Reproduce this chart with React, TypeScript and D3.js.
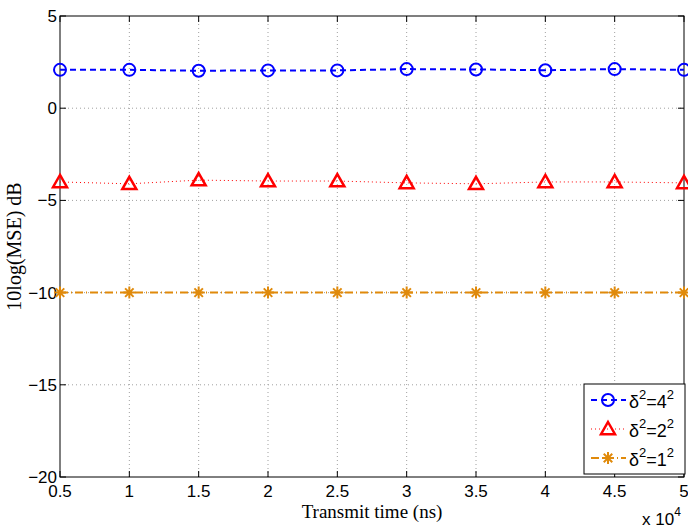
import { useRef, useEffect } from "react";
import * as d3 from "d3";

// transmit time, x 10^4 ns
const times = [0.5, 1, 1.5, 2, 2.5, 3, 3.5, 4, 4.5, 5];
const mse16 = [2.08, 2.08, 2.03, 2.05, 2.05, 2.12, 2.1, 2.06, 2.12, 2.08];
const mse4 = [-4.0, -4.1, -3.9, -3.95, -3.95, -4.05, -4.1, -4.0, -4.0, -4.05];
const mse1 = [-10, -10, -10, -10, -10, -10, -10, -10, -10, -10];
const xTicks = [0.5, 1, 1.5, 2, 2.5, 3, 3.5, 4, 4.5, 5];
const yTicks = [5, 0, -5, -10, -15, -20];
const legendBase = ["4", "2", "1"];

export default function App() {
  const ref = useRef<SVGSVGElement>(null);

  useEffect(() => {
    const svg = d3.select(ref.current);
    svg.selectAll("*").remove();
    const width = 688, height = 528;
    const m = { left: 60, right: 4, top: 16, bottom: 51 };

    const x = d3.scaleLinear().domain([0.5, 5]).range([m.left, width - m.right]);
    const y = d3.scaleLinear().domain([-20, 5]).range([height - m.bottom, m.top]);

    svg.append("rect").attr("width", width).attr("height", height).attr("fill", "white");

    // grid
    const grid = svg.append("g").attr("stroke", "#a0a0a0").attr("stroke-width", 1).attr("stroke-dasharray", "1,3");
    xTicks.slice(1, -1).forEach(t => {
      grid.append("line").attr("x1", x(t)).attr("x2", x(t)).attr("y1", y(-20)).attr("y2", y(5));
    });
    yTicks.slice(1, -1).forEach(t => {
      grid.append("line").attr("x1", x(0.5)).attr("x2", x(5)).attr("y1", y(t)).attr("y2", y(t));
    });

    // frame + ticks
    const axisG = svg.append("g").attr("stroke", "black").attr("stroke-width", 1);
    axisG.append("rect")
      .attr("x", x(0.5)).attr("y", y(5))
      .attr("width", x(5) - x(0.5)).attr("height", y(-20) - y(5))
      .attr("fill", "none");
    xTicks.forEach(t => {
      axisG.append("line").attr("x1", x(t)).attr("x2", x(t)).attr("y1", y(-20)).attr("y2", y(-20) - 6);
      axisG.append("line").attr("x1", x(t)).attr("x2", x(t)).attr("y1", y(5)).attr("y2", y(5) + 6);
    });
    yTicks.forEach(t => {
      axisG.append("line").attr("x1", x(0.5)).attr("x2", x(0.5) + 6).attr("y1", y(t)).attr("y2", y(t));
      axisG.append("line").attr("x1", x(5)).attr("x2", x(5) - 6).attr("y1", y(t)).attr("y2", y(t));
    });

    const sans = "'Liberation Sans', Arial, sans-serif";
    const serif = "'Liberation Serif', 'Times New Roman', serif";

    svg.append("g").selectAll("text").data(xTicks).join("text")
      .attr("x", d => x(d)).attr("y", y(-20) + 20)
      .attr("text-anchor", "middle").attr("font-family", sans).attr("font-size", 17)
      .text(d => String(d));
    svg.append("g").selectAll("text").data(yTicks).join("text")
      .attr("x", x(0.5) - 3).attr("y", d => y(d) + 6)
      .attr("text-anchor", "end").attr("font-family", sans).attr("font-size", 17)
      .text(d => (d < 0 ? "\u2212" + Math.abs(d) : String(d)));

    const mult = svg.append("text").attr("x", 642).attr("y", 525)
      .attr("font-family", sans).attr("font-size", 17);
    mult.append("tspan").text("x 10");
    mult.append("tspan").attr("dy", -9).attr("font-size", 12).text("4");

    svg.append("text").attr("x", (x(0.5) + x(5)) / 2).attr("y", 518)
      .attr("text-anchor", "middle").attr("font-family", serif).attr("font-size", 19)
      .text("Transmit time (ns)");
    svg.append("text").attr("transform", `translate(21,${(y(5) + y(-20)) / 2}) rotate(-90)`)
      .attr("text-anchor", "middle").attr("font-family", serif).attr("font-size", 20)
      .text("10log(MSE) dB");

    const series = [
      { values: mse16, color: "#0000ff", dash: "6,4", width: 2, marker: "circle" },
      { values: mse4, color: "#ff0000", dash: "1,3", width: 1, marker: "triangle" },
      { values: mse1, color: "#e08a0b", dash: "8,3,1,3", width: 2, marker: "star" },
    ];

    const line = d3.line<[number, number]>().x(d => x(d[0])).y(d => y(d[1]));

    const drawMarker = (g: any, kind: string, cx: number, cy: number, color: string) => {
      if (kind === "circle") {
        g.append("circle").attr("cx", cx).attr("cy", cy).attr("r", 6)
          .attr("fill", "none").attr("stroke", color).attr("stroke-width", 2);
      } else if (kind === "triangle") {
        const s = 7;
        g.append("path")
          .attr("d", `M${cx},${cy - s} L${cx + s},${cy + s * 0.75} L${cx - s},${cy + s * 0.75} Z`)
          .attr("fill", "none").attr("stroke", color).attr("stroke-width", 2.5);
      } else {
        const r = 6;
        const p = [0, 45, 90, 135].map(a => {
          const rad = (a * Math.PI) / 180;
          return `M${cx - r * Math.cos(rad)},${cy - r * Math.sin(rad)} L${cx + r * Math.cos(rad)},${cy + r * Math.sin(rad)}`;
        }).join(" ");
        g.append("path").attr("d", p).attr("stroke", color).attr("stroke-width", 2);
      }
    };

    series.forEach(s => {
      const pts: [number, number][] = times.map((t, i) => [t, s.values[i]]);
      svg.append("path").attr("d", line(pts))
        .attr("fill", "none").attr("stroke", s.color)
        .attr("stroke-width", s.width).attr("stroke-dasharray", s.dash);
      const mg = svg.append("g");
      pts.forEach(p => drawMarker(mg, s.marker, x(p[0]), y(p[1]), s.color));
    });

    // legend
    const lg = svg.append("g");
    lg.append("rect").attr("x", 584).attr("y", 384).attr("width", 101).attr("height", 90)
      .attr("fill", "white").attr("stroke", "black").attr("stroke-width", 1);
    series.forEach((s, i) => {
      const cy = 400 + i * 29;
      lg.append("line").attr("x1", 591).attr("x2", 626).attr("y1", cy).attr("y2", cy)
        .attr("stroke", s.color).attr("stroke-width", s.width).attr("stroke-dasharray", s.dash);
      drawMarker(lg, s.marker, 608, cy, s.color);
      const t = lg.append("text").attr("x", 629).attr("y", cy + 8)
        .attr("font-family", sans).attr("font-size", 18);
      t.append("tspan").text("\u03b4");
      t.append("tspan").attr("dy", -9).attr("font-size", 13).text("2");
      t.append("tspan").attr("dy", 9).text("=" + legendBase[i]);
      t.append("tspan").attr("dy", -9).attr("font-size", 13).text("2");
    });
  }, []);

  return (
    <svg ref={ref} width={688} height={528}
      style={{ position: "absolute", left: 0, top: 0, display: "block" }} />
  );
}
